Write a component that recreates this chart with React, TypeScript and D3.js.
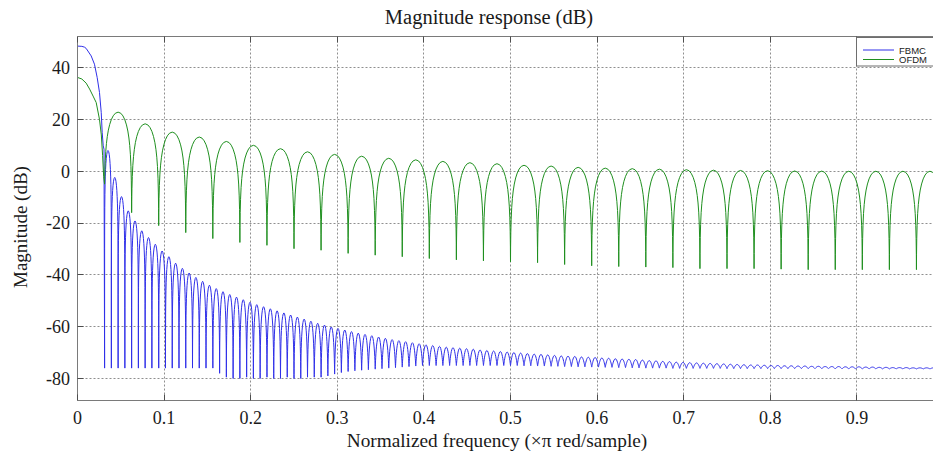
import React from "react";
import * as d3 from "d3";

const W = 933;
const H = 455;

// ---- axes ticks ----
const X_TICKS = [0, 0.1, 0.2, 0.3, 0.4, 0.5, 0.6, 0.7, 0.8, 0.9];
const X_TICK_LABELS = ["0", "0.1", "0.2", "0.3", "0.4", "0.5", "0.6", "0.7", "0.8", "0.9"];
const Y_TICKS = [-80, -60, -40, -20, 0, 20, 40];
const Y_TICK_LABELS = ["-80", "-60", "-40", "-20", "0", "20", "40"];
const X_DOMAIN = [0, 1];
const Y_DOMAIN = [-88.5, 52];

const TITLE = "Magnitude response (dB)";
const X_LABEL = "Normalized frequency (\u00d7\u03c0 red/sample)";
const Y_LABEL = "Magnitude (dB)";
const SERIES_NAMES = ["FBMC", "OFDM"];

// ---- FBMC (blue) ----
// main lobe, read point by point
const FBMC_MAIN_F = [0, 0.005, 0.008, 0.01, 0.0158, 0.0196, 0.0227, 0.0254, 0.0274, 0.0285, 0.0297, 0.0306];
const FBMC_MAIN_DB = [48.3, 48.2, 47.9, 47.4, 44.5, 41.3, 36.2, 30.4, 22.7, 15, 9.8, 8.5];
// null (trough) frequencies
const FBMC_NULL_F = [
  0.0313, 0.0391, 0.0469, 0.0547,
  0.0625, 0.0703, 0.0781, 0.0859, 0.0938, 0.1016, 0.1094, 0.1172,
  0.125, 0.1328, 0.1406, 0.1484, 0.1563, 0.1641, 0.1719, 0.1797,
  0.1875, 0.1953, 0.2031, 0.2109, 0.2188, 0.2266, 0.2344, 0.2422,
  0.25, 0.2578, 0.2656, 0.2734, 0.2813, 0.2891, 0.2969, 0.3047,
  0.3125, 0.3203, 0.3281, 0.3359, 0.3438, 0.3516, 0.3594, 0.3672,
  0.375, 0.3828, 0.3906, 0.3984, 0.4063, 0.4141, 0.4219, 0.4297,
  0.4375, 0.4453, 0.4531, 0.4609, 0.4688, 0.4766, 0.4844, 0.4922,
  0.5, 0.5078, 0.5156, 0.5234, 0.5313, 0.5391, 0.5469, 0.5547,
  0.5625, 0.5703, 0.5781, 0.5859, 0.5938, 0.6016, 0.6094, 0.6172,
  0.625, 0.6328, 0.6406, 0.6484, 0.6563, 0.6641, 0.6719, 0.6797,
  0.6875, 0.6953, 0.7031, 0.7109, 0.7188, 0.7266, 0.7344, 0.7422,
  0.75, 0.7578, 0.7656, 0.7734, 0.7813, 0.7891, 0.7969, 0.8047,
  0.8125, 0.8203, 0.8281, 0.8359, 0.8438, 0.8516, 0.8594, 0.8672,
  0.875, 0.8828, 0.8906, 0.8984, 0.9063, 0.9141, 0.9219, 0.9297,
  0.9375, 0.9453, 0.9531, 0.9609, 0.9688, 0.9766, 0.9844, 0.9922,
  1.0,
];
// trough level at each null (dB)
const FBMC_NULL_DB = [
  -76, -76, -76, -76,
  -76, -76, -76, -76, -76, -76, -76, -76,
  -76, -76, -76, -76, -76, -78, -79.5, -80,
  -80, -79.5, -80, -80, -79.5, -80, -80, -79.5,
  -80, -80, -79.5, -79.5, -79.5, -79, -78.3, -77.7,
  -77.3, -77, -76.8, -76.6, -76.4, -76.2, -76, -75.8,
  -75.6, -75.4, -75.2, -75, -75, -75, -75, -75,
  -75, -75, -75, -75, -75, -75, -75, -75,
  -75, -75, -75.1, -75.1, -75.2, -75.2, -75.3, -75.3,
  -75.4, -75.4, -75.5, -75.5, -75.6, -75.6, -75.7, -75.7,
  -75.8, -75.8, -75.9, -75.9, -76, -76, -76, -76,
  -76.1, -76.1, -76.1, -76.1, -76.1, -76.1, -76.1, -76.1,
  -76.2, -76.2, -76.2, -76.2, -76.2, -76.2, -76.2, -76.2,
  -76.2, -76.2, -76.2, -76.2, -76.2, -76.2, -76.2, -76.2,
  -76.3, -76.3, -76.3, -76.3, -76.3, -76.3, -76.3, -76.3,
  -76.3, -76.3, -76.3, -76.3, -76.3, -76.3, -76.3, -76.3,
  -76.3,
];
// side-lobe peak level between consecutive nulls (dB)
const FBMC_PEAK_DB = [
  8, -2.4, -9.8, -15.3, -19.2, -23, -25.6, -28.2,
  -30.8, -33, -35.5, -37.5, -39.3, -41, -42.5, -44,
  -45.3, -46.5, -47.6, -48.6, -49.6, -50.6, -51.5, -52.3,
  -53.1, -53.9, -54.7, -55.5, -56.3, -57.1, -57.9, -58.7,
  -59.4, -60.1, -60.7, -61.3, -61.9, -62.5, -63, -63.5,
  -64, -64.5, -65, -65.4, -65.8, -66.2, -66.6, -67,
  -67.3, -67.6, -67.9, -68.1, -68.3, -68.5, -68.7, -69,
  -69.2, -69.4, -69.6, -69.8, -70, -70.2, -70.4, -70.6,
  -70.7, -70.9, -71.1, -71.3, -71.4, -71.5, -71.7, -71.8,
  -71.9, -72.1, -72.2, -72.4, -72.5, -72.6, -72.7, -72.9,
  -73.1, -73.2, -73.4, -73.5, -73.7, -73.8, -73.9, -74,
  -74.1, -74.2, -74.3, -74.4, -74.5, -74.6, -74.7, -74.8,
  -74.8, -74.9, -75, -75, -75.1, -75.1, -75.2, -75.2,
  -75.3, -75.3, -75.4, -75.4, -75.4, -75.5, -75.5, -75.5,
  -75.6, -75.6, -75.7, -75.7, -75.8, -75.8, -75.8, -75.9,
  -75.9, -75.9, -75.9, -75.9,
];

// ---- OFDM (green) ----
const OFDM_MAIN_F = [0, 0.005, 0.01, 0.014, 0.018, 0.0216, 0.0254, 0.0275, 0.029, 0.0302];
const OFDM_MAIN_DB = [36.2, 35.6, 34, 31.7, 29, 26.5, 20, 14, 6, -2];
const OFDM_NULL_F = [
  0.03125, 0.0625, 0.09375, 0.125, 0.15625, 0.1875, 0.21875, 0.25,
  0.28125, 0.3125, 0.34375, 0.375, 0.40625, 0.4375, 0.46875, 0.5,
  0.53125, 0.5625, 0.59375, 0.625, 0.65625, 0.6875, 0.71875, 0.75,
  0.78125, 0.8125, 0.84375, 0.875, 0.90625, 0.9375, 0.96875, 1.0,
];
const OFDM_NULL_DB = [
  -5, -16, -21, -23.7, -26, -27.5, -28.6, -29.9,
  -30.5, -31.7, -32.4, -33, -33.7, -34.2, -34.6, -35,
  -35.3, -36, -36.5, -36.8, -37, -37.2, -37.6, -37.6,
  -37.6, -37.8, -38, -38, -38, -38, -38, -38,
];
const OFDM_PEAK_DB = [
  22.8, 18.3, 15.1, 13.2, 11.5, 10, 8.7, 7.5,
  6.5, 5.8, 5.0, 4.4, 3.8, 3.3, 2.9, 2.3,
  2.0, 1.5, 1.2, 1.0, 0.8, 0.6, 0.4, 0.3,
  0.2, 0.1, 0.05, 0, 0, 0, 0,
];

// lobe arch profile (fraction of lobe width -> fraction of amplitude), style only
const LOBE_T = [0.004, 0.012, 0.025, 0.045, 0.07, 0.1, 0.14, 0.19, 0.25, 0.32, 0.4, 0.5];
const LOBE_A = [0.01257, 0.0377, 0.0785, 0.1409, 0.2181, 0.309, 0.4258, 0.5621, 0.7071, 0.8443, 0.9511, 1];

const BLUE = "#2f2fe8";
const GREEN = "#1f8f1f";

function buildSeries(
  mainF: number[],
  mainDb: number[],
  nullF: number[],
  nullDb: number[],
  peakDb: number[]
): [number, number][] {
  const pts: [number, number][] = mainF.map((f, i) => [f, mainDb[i]] as [number, number]);
  const n = Math.min(nullF.length - 1, peakDb.length);
  const amp = (db: number) => Math.pow(10, db / 20);
  for (let i = 0; i <= n; i++) {
    pts.push([nullF[i], nullDb[i]]);
    if (i === n) break;
    const f0 = nullF[i];
    const f1 = nullF[i + 1];
    const a0 = amp(nullDb[i]);
    const a1 = amp(nullDb[i + 1]);
    const ap = amp(peakDb[i]);
    for (let s = 0; s < LOBE_T.length; s++) {
      const a = a0 + (ap - a0) * LOBE_A[s];
      pts.push([f0 + (f1 - f0) * LOBE_T[s], 20 * Math.log10(a)]);
    }
    for (let s = LOBE_T.length - 2; s >= 0; s--) {
      const a = a1 + (ap - a1) * LOBE_A[s];
      pts.push([f0 + (f1 - f0) * (1 - LOBE_T[s]), 20 * Math.log10(a)]);
    }
  }
  return pts;
}

const LEFT = 77.5;
const RIGHT = 943.5;
const TOP = 36.5;
const BOTTOM = 400.5;

export default function App() {
  const x = d3.scaleLinear().domain(X_DOMAIN).range([LEFT, RIGHT]);
  const y = d3.scaleLinear().domain(Y_DOMAIN).range([BOTTOM, TOP]);
  const line = d3
    .line<[number, number]>()
    .x((d) => x(d[0]))
    .y((d) => y(d[1]))
    .curve(d3.curveLinear);

  const fbmc = buildSeries(FBMC_MAIN_F, FBMC_MAIN_DB, FBMC_NULL_F, FBMC_NULL_DB, FBMC_PEAK_DB);
  const ofdm = buildSeries(OFDM_MAIN_F, OFDM_MAIN_DB, OFDM_NULL_F, OFDM_NULL_DB, OFDM_PEAK_DB);

  const px = (v: number) => Math.round(v - 0.5) + 0.5;
  const serif = "'Liberation Serif', 'Times New Roman', serif";
  const sans = "'Liberation Sans', Arial, sans-serif";
  const gridColor = "#8f8f8f";
  const axisColor = "#7a7a7a";
  const tickColor = "#4d4d4d";
  const textColor = "#1a1a1a";

  return (
    <svg width={W} height={H} viewBox={`0 0 ${W} ${H}`} style={{ display: "block", position: "absolute", left: 0, top: 0, background: "#fff" }}>
      <defs>
        <clipPath id="plotClip">
          <rect x={LEFT} y={TOP} width={RIGHT - LEFT} height={BOTTOM - TOP} />
        </clipPath>
      </defs>
      <rect x={0} y={0} width={W} height={H} fill="#fff" />

      {/* grid */}
      {Y_TICKS.map((t) => (
        <line key={"gy" + t} x1={LEFT} x2={W} y1={px(y(t))} y2={px(y(t))} stroke={gridColor} strokeWidth={1} strokeDasharray="2,2" />
      ))}
      {X_TICKS.filter((t) => t > 0).map((t) => (
        <line key={"gx" + t} x1={px(x(t))} x2={px(x(t))} y1={TOP} y2={BOTTOM} stroke={gridColor} strokeWidth={1} strokeDasharray="2,2" />
      ))}

      {/* data */}
      <g clipPath="url(#plotClip)">
        <path d={line(fbmc) || ""} fill="none" stroke={BLUE} strokeWidth={1} strokeLinejoin="round" />
        <path d={line(ofdm) || ""} fill="none" stroke={GREEN} strokeWidth={1} strokeLinejoin="round" />
      </g>

      {/* axes box */}
      <line x1={LEFT} x2={LEFT} y1={TOP} y2={BOTTOM} stroke={axisColor} strokeWidth={1} />
      <line x1={LEFT} x2={W} y1={BOTTOM} y2={BOTTOM} stroke={axisColor} strokeWidth={1} />
      <line x1={LEFT} x2={W} y1={TOP} y2={TOP} stroke={axisColor} strokeWidth={1} />

      {/* ticks */}
      {X_TICKS.map((t) => (
        <g key={"tx" + t}>
          <line x1={px(x(t))} x2={px(x(t))} y1={BOTTOM} y2={BOTTOM - 6} stroke={tickColor} strokeWidth={1} />
          <line x1={px(x(t))} x2={px(x(t))} y1={TOP} y2={TOP + 6} stroke={tickColor} strokeWidth={1} />
        </g>
      ))}
      {Y_TICKS.map((t) => (
        <line key={"ty" + t} x1={LEFT} x2={LEFT + 6} y1={px(y(t))} y2={px(y(t))} stroke={tickColor} strokeWidth={1} />
      ))}

      {/* tick labels */}
      {X_TICKS.map((t, i) => (
        <text key={"lx" + t} x={x(t)} y={424} textAnchor="middle" fontFamily={serif} fontSize={18} fill={textColor}>
          {X_TICK_LABELS[i]}
        </text>
      ))}
      {Y_TICKS.map((t, i) => (
        <text key={"ly" + t} x={70} y={y(t)} dy="0.35em" textAnchor="end" fontFamily={serif} fontSize={18} fill={textColor}>
          {Y_TICK_LABELS[i]}
        </text>
      ))}

      {/* titles */}
      <text x={489} y={24} textAnchor="middle" fontFamily={serif} fontSize={20.5} fill={textColor}>
        {TITLE}
      </text>
      <text x={497} y={447} textAnchor="middle" fontFamily={serif} fontSize={19.3} fill={textColor}>
        {X_LABEL}
      </text>
      <text transform={`translate(27,227) rotate(-90)`} textAnchor="middle" fontFamily={serif} fontSize={19} fill={textColor}>
        {Y_LABEL}
      </text>

      {/* legend */}
      <g>
        <rect x={856.5} y={37.5} width={120} height={28.5} fill="#fff" stroke="#6e6e6e" strokeWidth={1} />
        <line x1={863} x2={894} y1={50} y2={50} stroke={BLUE} strokeWidth={1} />
        <text x={899} y={53.5} fontFamily={sans} fontSize={9.5} fill={textColor}>
          {SERIES_NAMES[0]}
        </text>
        <line x1={863} x2={894} y1={59.5} y2={59.5} stroke={GREEN} strokeWidth={1} />
        <text x={899} y={63} fontFamily={sans} fontSize={9.5} fill={textColor}>
          {SERIES_NAMES[1]}
        </text>
      </g>
    </svg>
  );
}
